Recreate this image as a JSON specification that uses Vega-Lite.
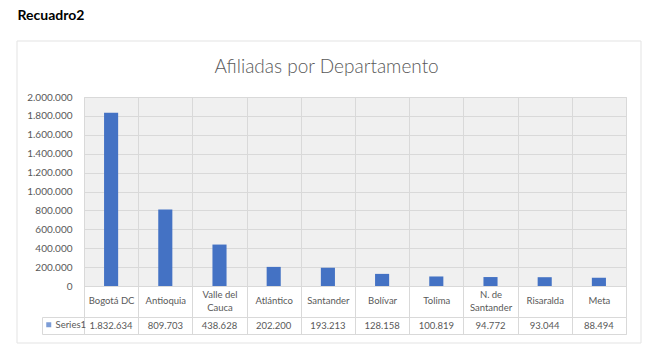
{
  "$schema": "https://vega.github.io/schema/vega-lite/v6.json",
  "padding": {"left": 16, "top": 8, "right": 10, "bottom": 10},
  "background": "white",
  "title": {"text": "Recuadro2", "anchor": "start", "fontSize": 14, "fontWeight": "bold", "color": "#000000", "font": "Lato", "offset": 18, "dx": 1},
  "config": {
    "locale": {"number": {"decimal": ",", "thousands": ".", "grouping": [3], "currency": ["$", ""]}},
    "font": "Lato",
    "legend": {"gradientHorizontalMaxLength": 800},
    "axis": {"labelColor": "#595959", "labelFont": "Lato", "labelFontSize": 10, "gridColor": "#d9d9d9", "domainColor": "#d9d9d9", "tickColor": "#d9d9d9"}
  },
  "datasets": {
    "d": [
      {"depto": "Bogotá DC", "serie": "Series1", "valor": 1832634},
      {"depto": "Antioquia", "serie": "Series1", "valor": 809703},
      {"depto": "Valle del Cauca", "serie": "Series1", "valor": 438628},
      {"depto": "Atlántico", "serie": "Series1", "valor": 202200},
      {"depto": "Santander", "serie": "Series1", "valor": 193213},
      {"depto": "Bolívar", "serie": "Series1", "valor": 128158},
      {"depto": "Tolima", "serie": "Series1", "valor": 100819},
      {"depto": "N. de Santander", "serie": "Series1", "valor": 94772},
      {"depto": "Risaralda", "serie": "Series1", "valor": 93044},
      {"depto": "Meta", "serie": "Series1", "valor": 88494}
    ]
  },
  "resolve": {"legend": {"color": "independent", "stroke": "independent"}, "scale": {"color": "independent", "stroke": "independent"}},
  "bounds": "flush",
  "spacing": 31,
  "vconcat": [
    {
      "width": 542,
      "height": 189,
      "data": {"name": "d"},
      "view": {"fill": "#f0f0f0", "stroke": "#d9d9d9"},
      "title": {"text": "Afiliadas por Departamento", "fontSize": 19, "fontWeight": 300, "color": "#595959", "font": "Lato", "frame": "bounds", "offset": 15},
      "mark": {"type": "bar", "width": {"band": 0.26}, "color": "#4472C4"},
      "encoding": {
        "x": {
          "field": "depto", "type": "nominal", "sort": null,
          "scale": {"paddingInner": 0, "paddingOuter": 0},
          "axis": {
            "title": null, "labelAngle": 0, "grid": true, "tickBand": "extent",
            "ticks": true, "tickSize": 31, "domain": true,
            "labelFontSize": 9.5,
            "labelPadding": -22.5, "labelLineHeight": 13,
            "labelBaseline": {"condition": {"test": "datum.value == 'Valle del Cauca' || datum.value == 'N. de Santander'", "value": "middle"}, "value": "line-top"},
            "labelExpr": "datum.label == 'Valle del Cauca' ? ['Valle del', 'Cauca'] : datum.label == 'N. de Santander' ? ['N. de', 'Santander'] : datum.label"
          }
        },
        "y": {
          "field": "valor", "type": "quantitative",
          "scale": {"domain": [0, 2000000], "nice": false},
          "axis": {"title": null, "values": [0, 200000, 400000, 600000, 800000, 1000000, 1200000, 1400000, 1600000, 1800000, 2000000], "format": ",d", "ticks": false, "domain": false, "grid": true, "labelPadding": 12}
        }
      }
    },
    {
      "width": 542,
      "height": 17,
      "data": {"name": "d"},
      "view": {"stroke": "#d9d9d9", "fill": null},
      "encoding": {
        "x": {
          "field": "depto", "type": "nominal", "sort": null,
          "scale": {"paddingInner": 0, "paddingOuter": 0},
          "axis": {"title": null, "labels": false, "ticks": false, "domain": false, "grid": true, "tickBand": "extent"}
        },
        "y": {
          "field": "serie", "type": "nominal",
          "scale": {"paddingInner": 0, "paddingOuter": 0},
          "axis": {"title": null, "labels": false, "ticks": true, "tickBand": "extent", "tickSize": -42, "offset": 42, "domain": true, "grid": false}
        }
      },
      "layer": [
        {
          "mark": {"type": "text", "color": "#595959", "fontSize": 9.5, "baseline": "middle"},
          "encoding": {"text": {"field": "valor", "type": "quantitative", "format": ",d"}}
        },
        {
          "mark": {"type": "square", "size": 0},
          "encoding": {
            "color": {
              "field": "serie", "type": "nominal",
              "scale": {"range": ["#4472C4"]},
              "legend": {"orient": "none", "legendX": -40, "legendY": 3, "title": null, "symbolType": "square", "symbolSize": 25, "labelFontSize": 9.5, "labelColor": "#595959", "labelOffset": 2, "padding": 0}
            }
          }
        },
        {
          "mark": {"type": "square", "size": 0, "filled": false},
          "encoding": {
            "stroke": {
              "field": "valor", "type": "quantitative",
              "scale": {"range": ["transparent", "transparent"]},
              "legend": {"orient": "none", "legendX": -67, "legendY": -276, "direction": "horizontal", "title": null, "padding": 0, "gradientLength": 624, "gradientThickness": 302, "gradientStrokeColor": "#d9d9d9", "gradientStrokeWidth": 1, "labelOpacity": 0, "labelExpr": "''", "tickCount": 1}
            }
          }
        }
      ]
    }
  ]
}
